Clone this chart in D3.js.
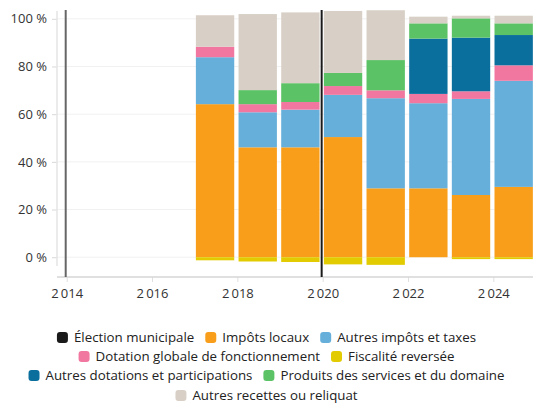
<!DOCTYPE html>
<html>
<head>
<meta charset="utf-8">
<script src="https://cdn.jsdelivr.net/npm/d3@7"></script>
<style>
  html, body { margin: 0; padding: 0; background: #fff; }
  svg { display: block; font-family: "Open Sans", Lato, sans-serif; }
</style>
</head>
<body>
<svg id="chart" width="533" height="403"></svg>
<script>
// Budget revenue breakdown, share of total (%) per year
const years = [2017, 2018, 2019, 2020, 2021, 2022, 2023, 2024];
const impotsLocaux        = [64.2, 46.1, 46.1, 50.4, 28.9, 28.9, 26.1, 29.5];
const autresImpots        = [19.7, 14.7, 15.8, 17.7, 37.8, 35.7, 40.3, 44.5];
const dotationGlobale     = [ 4.4,  3.4,  3.2,  3.7,  3.3,  3.9,  3.2,  6.5];
const autresDotations     = [ 0.0,  0.0,  0.0,  0.0,  0.0, 23.2, 22.5, 12.7];
const produitsServices    = [ 0.0,  5.9,  7.9,  5.5, 12.7,  6.4,  8.1,  4.9];
const autresRecettes      = [13.2, 31.9, 29.7, 26.0, 20.9,  2.8,  1.1,  3.2];
const fiscaliteReversee   = [-1.3, -1.8, -2.0, -3.0, -3.2,  0.0, -0.8, -0.8];

const electionYears = [2014, 2020];
const xTicks = [2014, 2016, 2018, 2020, 2022, 2024];
const yTicks = [0, 20, 40, 60, 80, 100];

const series = [
  { name: "Impôts locaux", values: impotsLocaux, color: "#f99e1a" },
  { name: "Autres impôts et taxes", values: autresImpots, color: "#66afda" },
  { name: "Dotation globale de fonctionnement", values: dotationGlobale, color: "#f177a1" },
  { name: "Fiscalité reversée", values: fiscaliteReversee, color: "#e2cb00" },
  { name: "Autres dotations et participations", values: autresDotations, color: "#0b6f9e" },
  { name: "Produits des services et du domaine", values: produitsServices, color: "#5bc265" },
  { name: "Autres recettes ou reliquat", values: autresRecettes, color: "#d8d0c6" }
];
const electionColor = "#1a1a1a";

const svg = d3.select("#chart");
const frLocale = d3.formatLocale({ decimal: ",", thousands: "\u2009", grouping: [3], currency: ["", " €"] });
const fmtYear = frLocale.format(",d");
const FONT = "Open Sans";

const x = d3.scaleLinear().domain([2014, 2024]).range([66.7, 493.3]);
const y = d3.scaleLinear().domain([-8.3, 103.7]).range([277, 10]);

// horizontal gridlines
svg.append("g").selectAll("line").data(yTicks).join("line")
  .attr("x1", 57).attr("x2", 533)
  .attr("y1", d => y(d)).attr("y2", d => y(d))
  .attr("stroke", "#f1f1f1").attr("stroke-width", 1);

// y axis
const yAxis = svg.append("g").attr("transform", "translate(57,0)")
  .call(d3.axisLeft(y).tickValues(yTicks).tickSize(5).tickPadding(5).tickFormat(d => d + " %"));
yAxis.select(".domain").remove();
yAxis.selectAll(".tick line").attr("stroke", "#d9d9d9");
yAxis.selectAll(".tick text").attr("fill", "#333").attr("font-size", 13).attr("font-family", FONT);
svg.append("line").attr("x1", 57).attr("x2", 57).attr("y1", 11).attr("y2", 266)
  .attr("stroke", "#e4e4e4").attr("stroke-width", 1.5);

// x axis
const xAxis = svg.append("g").attr("transform", "translate(0,277)")
  .call(d3.axisBottom(x).tickValues(xTicks).tickSize(5).tickPadding(7).tickFormat(fmtYear));
xAxis.select(".domain").remove();
xAxis.selectAll(".tick line").attr("stroke", "#e0e0e0");
xAxis.selectAll(".tick text").attr("fill", "#333").attr("font-size", 13).attr("font-family", FONT);
svg.append("line").attr("x1", 57).attr("x2", 533).attr("y1", 277).attr("y2", 277)
  .attr("stroke", "#d6d6d6").attr("stroke-width", 1.5);

// stacked bars: positive values stack upward from 0, negative downward
const step = x(2015) - x(2014);
const bars = svg.append("g");
years.forEach((yr, i) => {
  let pos = 0, neg = 0;
  series.forEach(s => {
    const v = s.values[i];
    if (!v) return;
    let y0, y1;
    if (v >= 0) { y0 = pos; y1 = pos + v; pos = y1; }
    else { y0 = neg + v; y1 = neg; neg = y0; }
    bars.append("rect")
      .attr("x", x(yr) + 1.2)
      .attr("width", step - 4.3)
      .attr("y", y(y1))
      .attr("height", y(y0) - y(y1))
      .attr("fill", s.color);
  });
});

// municipal election markers
svg.append("g").selectAll("line").data(electionYears).join("line")
  .attr("x1", d => x(d) - 1).attr("x2", d => x(d) - 1)
  .attr("y1", 10).attr("y2", 277)
  .attr("stroke", (d, i) => i === 0 ? "#666" : electionColor)
  .attr("stroke-width", 2);

// legend
const legendItems = [{ name: "Élection municipale", color: electionColor }].concat(series);
const rows = [[0, 1, 2], [3, 4], [5, 6], [7]];
const order = ["Élection municipale", "Impôts locaux", "Autres impôts et taxes",
  "Dotation globale de fonctionnement", "Fiscalité reversée",
  "Autres dotations et participations", "Produits des services et du domaine",
  "Autres recettes ou reliquat"];
const byName = new Map(legendItems.map(d => [d.name, d]));
const rowY = [337, 356, 375, 395];
const legend = svg.append("g").attr("font-size", 13.3).attr("font-family", FONT).attr("fill", "#222");
rows.forEach((r, ri) => {
  const g = legend.append("g");
  let cx = 0;
  r.forEach(idx => {
    const item = byName.get(order[idx]);
    g.append("rect").attr("x", cx).attr("y", rowY[ri] - 5).attr("width", 11).attr("height", 11)
      .attr("rx", 3).attr("fill", item.color);
    const t = g.append("text").attr("x", cx + 17).attr("y", rowY[ri] + 0.5).attr("dy", "0.35em").text(item.name);
    cx += 17 + t.node().getComputedTextLength() + 11;
  });
  const w = cx - 11;
  g.attr("transform", `translate(${(533 - w) / 2},0)`);
});
</script>
</body>
</html>
